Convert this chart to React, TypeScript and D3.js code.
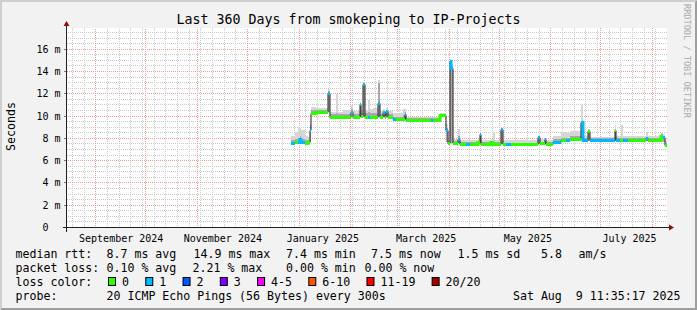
import React from "react";
import * as d3 from "d3";

// ---- data ----
const dates = [
  "2024-12-27","2024-12-29","2024-12-31","2025-01-01","2025-01-02","2025-01-04","2025-01-06","2025-01-07","2025-01-08","2025-01-11",
  "2025-01-18","2025-01-19","2025-01-23","2025-01-24","2025-01-27","2025-02-01","2025-02-02","2025-02-04","2025-02-06","2025-02-07",
  "2025-02-08","2025-02-09","2025-02-11","2025-02-12","2025-02-14","2025-02-17","2025-02-18","2025-02-20","2025-02-21","2025-02-22",
  "2025-02-23","2025-02-26","2025-02-28","2025-03-04","2025-03-05","2025-03-06","2025-03-21","2025-03-22","2025-03-26","2025-03-30",
  "2025-03-31","2025-04-01","2025-04-02","2025-04-03","2025-04-06","2025-04-07","2025-04-11","2025-04-13","2025-04-18","2025-04-19",
  "2025-04-20","2025-04-23","2025-04-26","2025-04-27","2025-04-28","2025-04-30","2025-05-02","2025-05-03","2025-05-05","2025-05-08",
  "2025-05-24","2025-05-25","2025-05-28","2025-05-29","2025-06-02","2025-06-07","2025-06-10","2025-06-12","2025-06-19","2025-06-20",
  "2025-06-23","2025-06-24","2025-07-09","2025-07-10","2025-07-12","2025-07-13","2025-07-14","2025-07-17","2025-07-28","2025-07-29",
  "2025-08-06","2025-08-07","2025-08-08",
];
const medianMs = [
  7.65, 7.7, 7.7, 7.95, 7.7, 7.65, 7.7, 8.8, 10.35, 10.4,
  12.1, 10.0, 10.0, 10.0, 10.0, 10.45, 10.0, 10.0, 11.1, 10.05,
  12.95, 10.0, 10.0, 10.0, 10.0, 11.25, 10.0, 10.4, 10.0, 10.5,
  10.0, 9.8, 9.8, 9.8, 10.2, 9.7, 9.7, 9.7, 10.1, 8.8,
  7.6, 14.95, 14.4, 7.6, 7.95, 7.55, 7.55, 7.55, 7.7, 8.4,
  7.55, 7.55, 7.7, 7.55, 7.55, 7.55, 8.85, 7.5, 7.5, 7.5,
  8.15, 7.6, 7.95, 7.55, 7.75, 7.88, 7.88, 8.0, 9.5, 7.9,
  8.75, 7.9, 8.8, 7.9, 7.9, 7.9, 7.9, 7.9, 8.1, 7.9,
  8.3, 8.2, 7.43,
];
const lossCount = [
  1, 0, 1, 1, 1, 0, 0, 1, 0, 0,
  1, 0, 0, 0, 0, 1, 0, 0, 1, 0,
  1, 0, 1, 0, 0, 1, 0, 1, 0, 1,
  0, 1, 0, 0, 1, 0, 1, 0, 0, 1,
  0, 1, 1, 0, 1, 0, 1, 0, 0, 1,
  0, 0, 0, 0, 0, 0, 1, 0, 1, 0,
  1, 0, 1, 0, 1, 0, 1, 0, 1, 1,
  0, 1, 0, 1, 0, 0, 1, 0, 1, 0,
  0, 1, 0,
];
const smokeLoMs = [
  7.5, 7.55, 7.55, 7.6, 7.55, 7.5, 7.55, 7.7, 10.2, 10.25,
  10.4, 9.9, 9.9, 9.9, 9.9, 10.2, 9.9, 9.9, 10.0, 9.9,
  10.0, 9.9, 9.9, 9.9, 9.9, 10.0, 9.9, 9.95, 9.9, 10.0,
  9.9, 9.7, 9.7, 9.7, 9.8, 9.6, 9.6, 9.6, 10.0, 7.7,
  7.5, 7.6, 7.6, 7.5, 7.6, 7.45, 7.45, 7.45, 7.5, 7.6,
  7.45, 7.45, 7.5, 7.45, 7.45, 7.45, 7.5, 7.4, 7.4, 7.4,
  7.5, 7.45, 7.5, 7.45, 7.6, 7.7, 7.7, 7.8, 7.9, 7.75,
  7.8, 7.75, 7.8, 7.75, 7.75, 7.75, 7.75, 7.75, 7.8, 7.75,
  7.8, 7.7, 7.35,
];
const smokeMidMs = [
  7.9, 8.0, 8.1, 8.3, 8.0, 7.9, 7.9, 9.2, 10.6, 10.6,
  12.3, 10.2, 10.3, 10.2, 10.2, 10.7, 10.2, 10.2, 11.2, 10.3,
  13.0, 10.3, 10.4, 10.3, 10.3, 13.0, 10.2, 10.5, 10.2, 10.6,
  10.2, 10.0, 10.0, 10.1, 10.4, 9.85, 9.85, 9.85, 10.2, 9.0,
  7.8, 15.0, 14.5, 7.8, 8.3, 7.7, 7.7, 7.7, 7.8, 8.5,
  7.7, 7.7, 7.8, 7.7, 7.7, 7.7, 8.9, 7.65, 7.65, 7.65,
  8.2, 7.75, 8.0, 7.7, 7.95, 8.1, 8.1, 8.3, 9.6, 8.05,
  8.8, 8.05, 8.9, 8.05, 8.05, 8.1, 8.05, 8.05, 8.2, 8.05,
  8.4, 8.3, 7.6,
];
const smokeHiMs = [
  8.3, 8.6, 9.1, 9.0, 8.8, 8.3, 8.2, 9.4, 10.9, 10.8,
  12.5, 10.4, 12.05, 10.4, 10.6, 11.0, 10.5, 10.5, 11.3, 10.6,
  13.1, 10.6, 11.5, 10.7, 10.8, 13.3, 10.5, 10.7, 10.5, 10.8,
  10.5, 10.3, 10.3, 10.7, 10.7, 10.0, 10.0, 10.0, 10.3, 9.3,
  8.0, 15.2, 14.7, 8.0, 8.9, 7.9, 7.9, 7.9, 8.0, 8.6,
  7.9, 7.9, 8.0, 8.6, 7.9, 7.9, 9.0, 7.9, 7.9, 7.9,
  8.3, 8.0, 8.1, 7.9, 8.3, 8.6, 8.5, 8.7, 11.0, 8.3,
  8.9, 8.2, 9.2, 8.3, 8.3, 9.2, 8.3, 8.3, 8.6, 8.3,
  8.5, 8.4, 7.8,
];

const yMajorTicks = [0, 2, 4, 6, 8, 10, 12, 14, 16];
const monthLabelDates = ["2024-09-16", "2024-11-16", "2025-01-15", "2025-03-18", "2025-05-18", "2025-07-18"];
const monthLabelTexts = ["September 2024", "November 2024", "January 2025", "March 2025", "May 2025", "July 2025"];

const lossLabels = ["0", "1", "2", "3", "4-5", "6-10", "11-19", "20/20"];
const lossUpper = [0, 1, 2, 3, 5, 10, 19, 20];
const lossColors = ["#26ff00", "#00b8ff", "#0059ff", "#7e00ff", "#ff00ff", "#ff5500", "#ff0000", "#a10000"];

const rttStats = ["8.7 ms avg", "14.9 ms max", "7.4 ms min", "7.5 ms now", "1.5 ms sd", "5.8", "am/s"];
const lossStats = ["0.10 % avg", "2.21 % max", "0.00 % min", "0.00 % now"];

const title = "Last 360 Days from smokeping to IP-Projects";
const probeText = "20 ICMP Echo Pings (56 Bytes) every 300s";
const stampText = "Sat Aug  9 11:35:17 2025";

// ---- layout ----
const W = 697, H = 310;
const X0 = 67, X1 = 667, Y0 = 228, Y1 = 28;
const FONT = "DejaVu Sans Mono";
const tStart = new Date(Date.UTC(2024, 7, 14, 11, 35, 17));
const tEnd = new Date(Date.UTC(2025, 7, 9, 11, 35, 17));

export default function App() {
  const x = d3.scaleUtc().domain([tStart, tEnd]).range([X0, X1]);
  const y = d3.scaleLinear().domain([0, 17.95]).range([Y0, Y1]);
  const gx = (t: Date) => Math.round(x(t)) - 1; // pixel column of a grid line
  const gy = (v: number) => Math.round(y(v)) - 1; // pixel row of a grid line
  const sx = (t: Date) => Math.round(x(t));
  const sy = (v: number) => Math.round(y(v)) + 0.5;

  const pts = dates.map((d, i) => ({
    t: new Date(d + "T00:00:00Z"),
    m: medianMs[i], loss: lossCount[i],
    lo: smokeLoMs[i], mid: smokeMidMs[i], hi: smokeHiMs[i],
  }));
  const ptsEnd = [...pts, { ...pts[pts.length - 1], t: tEnd }];

  const bucket = (l: number) => lossUpper.findIndex((u) => l <= u);

  const areaOuter = d3.area<any>().x((d) => sx(d.t)).y0((d) => Math.round(y(d.lo))).y1((d) => Math.round(y(d.hi))).curve(d3.curveStepAfter)(ptsEnd) || "";
  const areaInner = d3.area<any>().x((d) => sx(d.t)).y0((d) => Math.round(y(d.lo))).y1((d) => Math.round(y(d.mid))).curve(d3.curveStepAfter)(ptsEnd) || "";
  const medLine = d3.line<any>().x((d) => sx(d.t)).y((d) => sy(d.m)).curve(d3.curveStepAfter)(ptsEnd) || "";

  const colorPaths = lossColors.map((c, b) => {
    let p = "";
    for (let i = 0; i < pts.length; i++) {
      if (bucket(pts[i].loss) !== b) continue;
      const xa = sx(pts[i].t), xb = sx(ptsEnd[i + 1].t), yy = sy(pts[i].m);
      if (i === 0 || bucket(pts[i - 1].loss) !== b) p += `M${xa},${yy}`;
      else p += `V${yy}`;
      p += `H${xb}`;
    }
    return { c, p };
  });

  // grids drawn as pixel dot patterns (1 on, 1 off)
  const yMinor = d3.range(0.5, 17.95, 0.5).filter((v) => Math.abs(v % 2) > 1e-6);
  const yMajor = yMajorTicks.filter((v) => v > 0);
  const weeks = d3.utcSunday.range(tStart, tEnd);
  const months = d3.utcMonth.range(tStart, tEnd);
  const minorCol = "#c8c8c8";
  const majorCol = "#f29a9a";

  const hDots = (row: number) => `M${X0},${row}h${X1 - X0}v1h${-(X1 - X0)}z`;
  const vDots = (col: number) => `M${col},${Y1}h1v${Y0 - Y1}h-1z`;

  // legend loss boxes flow layout
  const charW = 6.97;
  let bx = 108;
  const boxes = lossLabels.map((lab, i) => {
    const item = { x: bx, lab, col: lossColors[i] };
    bx += 14.4 + lab.length * charW + 15.9;
    return item;
  });

  const legendRow = [258, 272, 286, 300];
  const statX1 = [106.5, 193.5, 286, 371, 457.5, 541, 578.5];
  const statX2 = [106.5, 192.5, 286, 364.5];

  return (
    <svg width={W} height={H} style={{ position: "absolute", left: 0, top: 0 }} fontFamily={FONT}>
      <defs>
        <pattern id="dotMinor" width={2} height={2} patternUnits="userSpaceOnUse">
          <rect x={0} y={0} width={1} height={1} fill={minorCol} />
          <rect x={1} y={1} width={1} height={1} fill={minorCol} />
        </pattern>
        <pattern id="dotMajor" width={2} height={2} patternUnits="userSpaceOnUse">
          <rect x={0} y={0} width={1} height={1} fill={majorCol} />
          <rect x={1} y={1} width={1} height={1} fill={majorCol} />
        </pattern>
      </defs>
      <rect x={0} y={0} width={W} height={H} fill="#f2f2f2" />
      <polygon points={`0,0 ${W},0 ${W - 2},2 2,2 2,${H - 2} 0,${H}`} fill="#cfcfcf" />
      <polygon points={`${W},0 ${W},${H} 0,${H} 2,${H - 2} ${W - 2},${H - 2} ${W - 2},2`} fill="#9e9e9e" />
      <rect x={X0} y={Y1} width={X1 - X0} height={Y0 - Y1} fill="#ffffff" />

      {/* minor grid */}
      <g fill="url(#dotMinor)" shapeRendering="crispEdges">
        {yMinor.map((v) => <path key={"ym" + v} d={hDots(gy(v))} />)}
        {weeks.map((t) => <path key={"w" + +t} d={vDots(gx(t))} />)}
      </g>
      {/* major grid */}
      <g fill="url(#dotMajor)" shapeRendering="crispEdges">
        {yMajor.map((v) => <path key={"yM" + v} d={hDots(gy(v))} />)}
        {months.map((t) => <path key={"m" + +t} d={vDots(gx(t))} />)}
      </g>
      <g fill="#777" shapeRendering="crispEdges">
        {yMajorTicks.map((v) => (
          <rect key={"tk" + v} x={X0 - 3} y={gy(v)} width={3} height={1} />
        ))}
      </g>

      {/* smoke */}
      <path d={areaOuter} fill="#d6d6d6" shapeRendering="crispEdges" />
      <path d={areaInner} fill="#a8a8a8" shapeRendering="crispEdges" />
      {/* median */}
      <path d={medLine} fill="none" stroke="#202020" strokeWidth={1} />
      {colorPaths.map(({ c, p }) => (p ? <path key={c} d={p} fill="none" stroke={c} strokeWidth={3} /> : null))}

      {/* axes */}
      <line x1={X0 - 4} x2={X1 + 4} y1={Y0 - 0.5} y2={Y0 - 0.5} stroke="#202020" strokeWidth={1} />
      <line x1={X0 - 0.5} x2={X0 - 0.5} y1={Y0 + 4} y2={Y1 - 4} stroke="#202020" strokeWidth={1} />
      <polygon points={`${X1 + 2},${Y0 - 3.5} ${X1 + 2},${Y0 + 2.5} ${X1 + 7},${Y0 - 0.5}`} fill="#8b1010" />
      <polygon points={`${X0 - 3.5},${Y1 - 2} ${X0 + 2.5},${Y1 - 2} ${X0 - 0.5},${Y1 - 7}`} fill="#8b1010" />

      {/* y labels */}
      <g fontSize={10} fill="#000" textAnchor="end">
        {yMajorTicks.map((v) => (
          <text key={"yl" + v} x={v === 0 ? 60.5 - 2 * 6.02 : 60.5} y={gy(v) + 4.3}>
            {v === 0 ? "0" : `${v} m`}
          </text>
        ))}
      </g>
      {/* x labels */}
      <g fontSize={10} fill="#000" textAnchor="middle">
        {monthLabelDates.map((d, i) => (
          <text key={d} x={x(new Date(d + "T00:00:00Z"))} y={241.5}>
            {monthLabelTexts[i]}
          </text>
        ))}
      </g>

      <text x={348.5} y={23.5} fontSize={13.3} textAnchor="middle" fill="#000">{title}</text>
      <text transform="translate(14.5,126.5) rotate(-90)" fontSize={11.6} textAnchor="middle" fill="#000">Seconds</text>
      <text transform="translate(684,4) rotate(90)" fontSize={8.6} fill="#ababab">RRDTOOL / TOBI OETIKER</text>

      {/* legend */}
      <g fontSize={11.6} fill="#000">
        <text x={15.5} y={legendRow[0]}>median rtt:</text>
        {rttStats.map((s, i) => (
          <text key={"r" + i} x={statX1[i]} y={legendRow[0]}>{s}</text>
        ))}
        <text x={15.5} y={legendRow[1]}>packet loss:</text>
        {lossStats.map((s, i) => (
          <text key={"l" + i} x={statX2[i]} y={legendRow[1]}>{s}</text>
        ))}
        <text x={15.5} y={legendRow[2]}>loss color:</text>
        {boxes.map((b) => (
          <g key={b.lab}>
            <rect x={b.x + 0.5} y={legendRow[2] - 8.5} width={7} height={8} fill={b.col} stroke="#000" strokeWidth={1} />
            <text x={b.x + 14} y={legendRow[2]}>{b.lab}</text>
          </g>
        ))}
        <text x={15.5} y={legendRow[3]}>probe:</text>
        <text x={106.5} y={legendRow[3]}>{probeText}</text>
        <text x={680.5} y={legendRow[3]} textAnchor="end" style={{ whiteSpace: "pre" }}>{stampText}</text>
      </g>
    </svg>
  );
}
